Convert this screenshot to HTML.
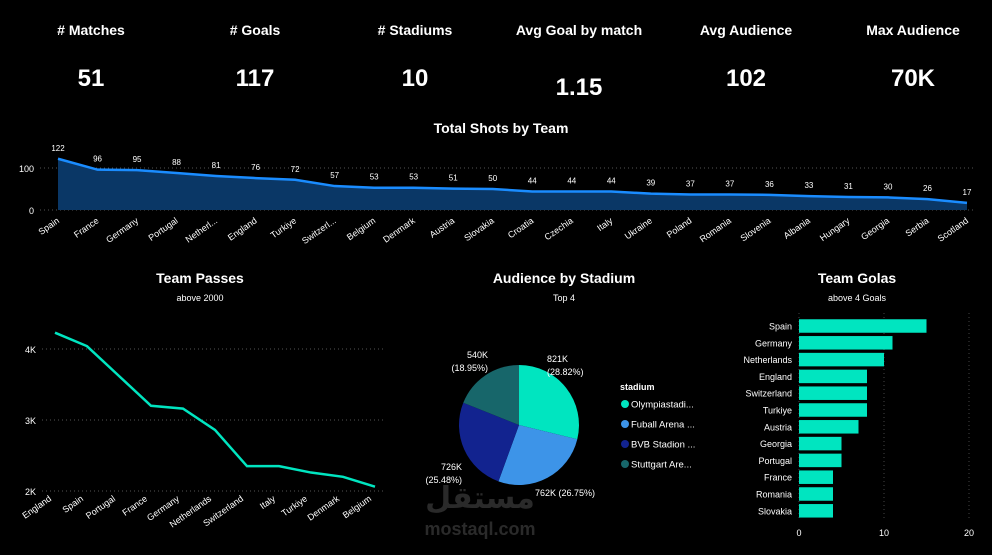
<!DOCTYPE html>
<html><head><meta charset="utf-8">
<style>
body{margin:0;background:#000;width:992px;height:550px;overflow:hidden;font-family:"Segoe UI","Liberation Sans","DejaVu Sans",sans-serif;color:#fff}
svg text{font-family:"Liberation Sans","DejaVu Sans",sans-serif}
</style></head>
<body>
<svg id="s" width="992" height="550" viewBox="0 0 992 550">
<g id="kpis"></g>
<text x="501" y="133" text-anchor="middle" font-size="14" font-weight="bold" fill="#fff">Total Shots by Team</text>
<g id="area"></g>
<text x="200" y="283" text-anchor="middle" font-size="14" font-weight="bold" fill="#fff">Team Passes</text>
<text x="200" y="301" text-anchor="middle" font-size="9" fill="#fff">above 2000</text>
<g id="line"></g>
<text x="564" y="283" text-anchor="middle" font-size="14" font-weight="bold" fill="#fff">Audience by Stadium</text>
<text x="564" y="301" text-anchor="middle" font-size="9" fill="#fff">Top 4</text>
<g id="pie"></g>
<text x="857" y="283" text-anchor="middle" font-size="14" font-weight="bold" fill="#fff">Team Golas</text>
<text x="857" y="301" text-anchor="middle" font-size="9" fill="#fff">above 4 Goals</text>
<g id="bars"></g>
<text x="480" y="508" text-anchor="middle" font-size="30" font-weight="bold" fill="#555" opacity="0.5">مستقل</text>
<text x="480" y="535" text-anchor="middle" font-size="18" font-weight="bold" fill="#555" opacity="0.5">mostaql.com</text>
</svg>
<script>
const NS="http://www.w3.org/2000/svg";
function mk(p,t,a){const e=document.createElementNS(NS,t);for(const k in a)e.setAttribute(k,a[k]);p.appendChild(e);return e;}

const kpiLabels=["# Matches","# Goals","# Stadiums","Avg Goal by match","Avg Audience","Max Audience"];
const kpiValues=["51","117","10","1.15","102","70K"];
const kpiX=[91,255,415,579,746,913];
const kpiG=document.getElementById('kpis');
kpiLabels.forEach((l,i)=>{
 let t=mk(kpiG,'text',{x:kpiX[i],y:35,'text-anchor':'middle','font-size':14,'font-weight':'bold',fill:'#fff'});t.textContent=l;
 
 
 let v=mk(kpiG,'text',{x:kpiX[i],y:i==3?95:86,'text-anchor':'middle','font-size':24,'font-weight':'bold',fill:'#fff'});v.textContent=kpiValues[i];
 
 
});

// Shots area chart
const shotTeams=["Spain","France","Germany","Portugal","Netherl...","England","Turkiye","Switzerl...","Belgium","Denmark","Austria","Slovakia","Croatia","Czechia","Italy","Ukraine","Poland","Romania","Slovenia","Albania","Hungary","Georgia","Serbia","Scotland"];
const shotValues=[122,96,95,88,81,76,72,57,53,53,51,50,44,44,44,39,37,37,36,33,31,30,26,17];
const shotTicks=[0,100];
(function(){
 const g=document.getElementById('area');
 const x0=58,x1=967,y0=210,k=0.42;
 const X=i=>x0+i*(x1-x0)/(shotValues.length-1), Y=v=>y0-v*k;
 shotTicks.forEach(t=>{
  mk(g,'line',{x1:40,x2:975,y1:Y(t),y2:Y(t),stroke:'#555','stroke-dasharray':'1,3'});
  let tt=mk(g,'text',{x:34,y:Y(t)+4,'text-anchor':'end','font-size':9,fill:'#fff'});tt.textContent=t;
  
  
 });
 let d='M'+X(0)+','+y0;shotValues.forEach((v,i)=>d+=' L'+X(i)+','+Y(v));d+=' L'+X(shotValues.length-1)+','+y0+'Z';
 let a=mk(g,'path',{d:d,fill:'#0a3766'});
 
 
 let l=mk(g,'polyline',{points:shotValues.map((v,i)=>X(i)+','+Y(v)).join(' '),fill:'none',stroke:'#1a8cff','stroke-width':2.5});
 
 
 shotValues.forEach((v,i)=>{
  let t=mk(g,'text',{x:X(i),y:Y(v)-8,'text-anchor':'middle','font-size':8,fill:'#fff'});t.textContent=v;
  
  
  let c=mk(g,'text',{x:X(i)+2,y:y0+12,'text-anchor':'end','font-size':9,fill:'#fff',transform:`rotate(-35 ${X(i)+2} ${y0+12})`});c.textContent=shotTeams[i];
  
  
 });
})();

// Passes line chart
const passTeams=["England","Spain","Portugal","France","Germany","Netherlands","Switzerland","Italy","Turkiye","Denmark","Belgium"];
const passValues=[4230,4040,3620,3200,3160,2860,2350,2350,2260,2200,2060];
const passTicks=[2000,3000,4000];
(function(){
 const g=document.getElementById('line');
 const x0=55,x1=375,y2k=491,k=0.071;
 const X=i=>x0+i*(x1-x0)/(passValues.length-1), Y=v=>y2k-(v-2000)*k;
 passTicks.forEach(t=>{
  mk(g,'line',{x1:42,x2:385,y1:Y(t),y2:Y(t),stroke:'#555','stroke-dasharray':'1,3'});
  let tt=mk(g,'text',{x:36,y:Y(t)+4,'text-anchor':'end','font-size':9,fill:'#fff'});tt.textContent=(t/1000)+'K';
  
  
 });
 let l=mk(g,'polyline',{points:passValues.map((v,i)=>X(i)+','+Y(v)).join(' '),fill:'none',stroke:'#00e5c0','stroke-width':2.5});
 
 
 passTeams.forEach((n,i)=>{
  let c=mk(g,'text',{x:X(i)-3,y:500,'text-anchor':'end','font-size':9,fill:'#fff',transform:`rotate(-35 ${X(i)-3} 500)`});c.textContent=n;
  
  
 });
})();

// Pie
const stadiums=["Olympiastadi...","Fuball Arena ...","BVB Stadion ...","Stuttgart Are..."];
const audience=[821,762,726,540];
const pieColors=["#00e5c0","#3d94e8","#12238f","#17666a"];
(function(){
 const g=document.getElementById('pie');
 const cx=519,cy=425,r=60,tot=audience.reduce((a,b)=>a+b,0);
 let a0=-Math.PI/2;
 const labelPos=[[547,362,'start'],[535,496,'start'],[462,470,'end'],[488,358,'end']];
 audience.forEach((v,i)=>{
  const a1=a0+v/tot*2*Math.PI;
  const p=`M${cx},${cy} L${cx+r*Math.cos(a0)},${cy+r*Math.sin(a0)} A${r},${r} 0 ${a1-a0>Math.PI?1:0} 1 ${cx+r*Math.cos(a1)},${cy+r*Math.sin(a1)} Z`;
  let s=mk(g,'path',{d:p,fill:pieColors[i]});
  
  
  const pct=(v/tot*100).toFixed(2);
  const [lx,ly,an]=labelPos[i];
  let t=mk(g,'text',{x:lx,y:ly,'text-anchor':an,'font-size':9,fill:'#fff'});
  if(i==2){t.textContent=v+'K';let t2=mk(g,'text',{x:lx,y:ly+13,'text-anchor':'end','font-size':9,fill:'#fff'});t2.textContent='('+pct+'%)';}
  else if(i==1){t.textContent=v+'K ('+pct+'%)';}
  else {t.textContent=v+'K';let t2=mk(g,'text',{x:i==3?lx:lx,y:ly+13,'text-anchor':an,'font-size':9,fill:'#fff'});t2.textContent='('+pct+'%)';}
  
  
  a0=a1;
 });
 let lt=mk(g,'text',{x:620,y:390,'font-size':9,'font-weight':'bold',fill:'#fff'});lt.textContent='stadium';
 
 
 stadiums.forEach((n,i)=>{
  const y=404+i*20;
  let c=mk(g,'circle',{cx:625,cy:y,r:4,fill:pieColors[i]});
  
  
  let t=mk(g,'text',{x:631,y:y+3.5,'font-size':9.5,fill:'#fff'});t.textContent=n;
  
  
 });
})();

// Goals bars
const goalTeams=["Spain","Germany","Netherlands","England","Switzerland","Turkiye","Austria","Georgia","Portugal","France","Romania","Slovakia"];
const goalValues=[15,11,10,8,8,8,7,5,5,4,4,4];
const goalTicks=[0,10,20];
(function(){
 const g=document.getElementById('bars');
 const x0=799,k=8.5,yTop=326,step=16.8,h=13.5;
 const X=v=>x0+v*k;
 goalTicks.forEach(t=>{
  mk(g,'line',{x1:X(t),x2:X(t),y1:313,y2:520,stroke:'#444','stroke-dasharray':'1,3'});
  let tt=mk(g,'text',{x:X(t),y:536,'text-anchor':'middle','font-size':9,fill:'#fff'});tt.textContent=t;
  
  
 });
 goalValues.forEach((v,i)=>{
  const yc=yTop+i*step;
  let b=mk(g,'rect',{x:x0,y:yc-h/2,width:X(v)-x0,height:h,fill:'#00e5c0'});
  
  
  let t=mk(g,'text',{x:792,y:yc+3.5,'text-anchor':'end','font-size':9,fill:'#fff'});t.textContent=goalTeams[i];
  
  
 });
})();
</script>
</body></html>
